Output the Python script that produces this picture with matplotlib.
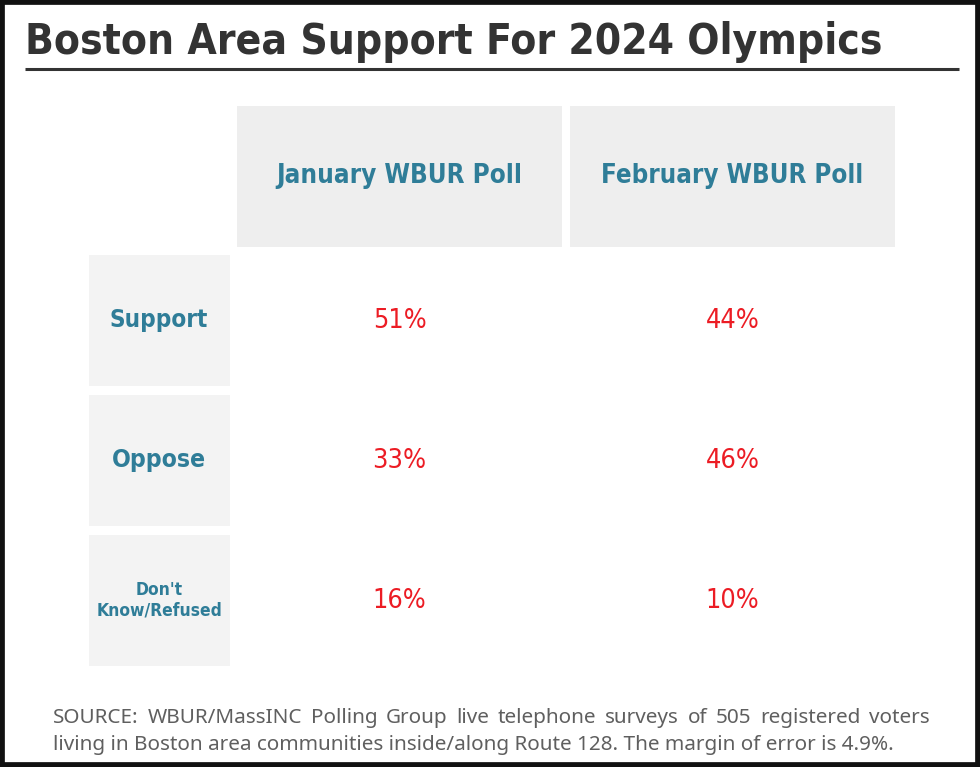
import matplotlib
matplotlib.use("Agg")
import matplotlib.pyplot as plt
from matplotlib.patches import Rectangle
from matplotlib import font_manager
from matplotlib.font_manager import FontProperties

TITLE = "Boston Area Support For 2024 Olympics"
polls = ["January WBUR Poll", "February WBUR Poll"]
responses = ["Support", "Oppose", "Don't\nKnow/Refused"]
january = [51, 33, 16]
february = [44, 46, 10]
source_lines = [
    "SOURCE: WBUR/MassINC Polling Group live telephone surveys of 505 registered voters",
    "living in Boston area communities inside/along Route 128. The margin of error is 4.9%.",
]

W, H = 980, 767
TEAL = "#2f7d98"
RED = "#ec1c24"
GREY_TXT = "#5f5f5f"


def find_narrow(bold):
    """Pick a condensed/narrow face if one is installed."""
    keys = ("condensed", "narrow")
    for f in font_manager.fontManager.ttflist:
        name = f.name.lower()
        fname = f.fname.lower()
        is_bold = f.weight in ("bold", 700) or "bold" in fname
        if (any(k in name or k in fname for k in keys) or "condensed" in str(f.stretch)) \
                and is_bold == bold and "oblique" not in fname and "italic" not in fname:
            return FontProperties(fname=f.fname)
    return FontProperties(family="DejaVu Sans", weight="bold" if bold else "normal")


FP_BOLD = find_narrow(True)
FP_REG = find_narrow(False)
FP_NOTE = FontProperties(family=["Noto Sans", "DejaVu Sans"])

fig = plt.figure(figsize=(W / 100, H / 100), dpi=100)
ax = fig.add_axes([0, 0, 1, 1])
ax.set_xlim(0, W)
ax.set_ylim(H, 0)
ax.axis("off")
fig.canvas.draw()
renderer = fig.canvas.get_renderer()


def fit_text(x, y, s, fp, size, target_w, grow=False, **kw):
    """Place text, then rescale its size so it spans about target_w pixels."""
    t = ax.text(x, y, s, fontproperties=fp.copy(), **kw)
    t.set_fontsize(size)
    w = t.get_window_extent(renderer).width
    if w > target_w or grow:
        t.set_fontsize(size * target_w / w)
    return t


# outer black frame
ax.add_patch(Rectangle((0, 0), W, H, facecolor="white", edgecolor="#111111", linewidth=7))

fit_text(25, 42, TITLE, FP_BOLD, 34, 858, color="#333333", ha="left", va="center")
ax.plot([25, 959], [69, 69], color="#333333", linewidth=2.2, solid_capstyle="butt")

# header cells
col_x = [237, 570]
col_w = 325
for x, name, tw in zip(col_x, polls, [246, 262]):
    ax.add_patch(Rectangle((x, 106), col_w, 141, facecolor="#eeeeee", edgecolor="none"))
    fit_text(x + col_w / 2, 176, name, FP_BOLD, 23, tw, color=TEAL, ha="center", va="center")

# row cells and values
row_y = [255, 395, 535]
row_h = 131
label_w = [98, 94, 126]
for i, (y, label) in enumerate(zip(row_y, responses)):
    ax.add_patch(Rectangle((89, y), 141, row_h, facecolor="#f3f3f3", edgecolor="none"))
    small = "\n" in label
    fit_text(159, y + row_h / 2, label, FP_BOLD, 15 if small else 23, label_w[i],
             color=TEAL, ha="center", va="center", linespacing=1.2)
    for x, vals in zip(col_x, [january, february]):
        fit_text(x + col_w / 2, y + row_h / 2, f"{vals[i]}%", FP_REG, 23, 54,
                 color=RED, ha="center", va="center")

# source note, first line justified
left, right = 53, 930
line2 = fit_text(left, 745, source_lines[1], FP_NOTE, 13, 844, grow=True,
                 color=GREY_TXT, va="center")
note_size = line2.get_fontsize()
words = source_lines[0].split(" ")
arts = []
for w in words:
    a = ax.text(0, 718, w, fontproperties=FP_NOTE.copy(), color=GREY_TXT, va="center")
    a.set_fontsize(note_size)
    arts.append(a)
widths = [a.get_window_extent(renderer).width for a in arts]
gap = (right - left - sum(widths)) / (len(words) - 1)
pos = left
for a, w in zip(arts, widths):
    a.set_x(pos)
    pos += w + gap

fig.savefig("out.png", dpi=100)
